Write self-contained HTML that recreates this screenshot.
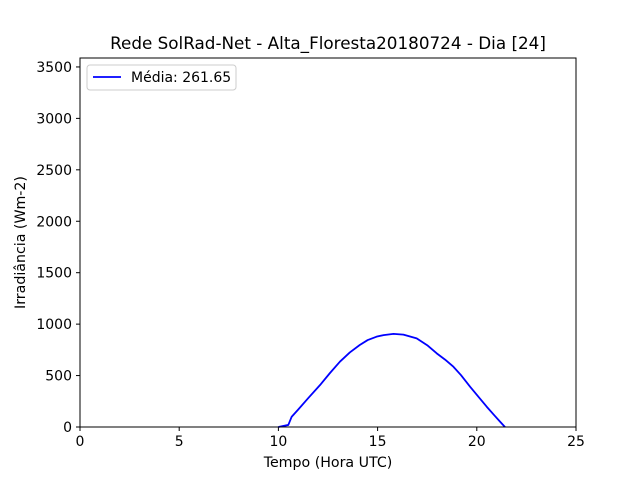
<!DOCTYPE html>
<html><head><meta charset="utf-8"><style>
body{margin:0;background:#fff;font-family:"DejaVu Sans","Liberation Sans",sans-serif}
svg text{font-family:"DejaVu Sans","Liberation Sans",sans-serif;fill:#000}
</style></head><body>
<svg width="640" height="480" id="c">
<rect width="640" height="480" fill="#fff"/>
</svg>
<script>
const xTicks=[0,5,10,15,20,25];
const yTicks=[0,500,1000,1500,2000,2500,3000,3500];
const hours=[10,10.5,10.67,11,11.5,12.1,12.6,13.1,13.6,14.1,14.5,14.95,15.3,15.8,16.3,16.97,17.5,17.98,18.4,18.82,19.2,19.66,20.1,20.5,20.9,21.17,21.42];
const irr=[0,20,100,170,280,408,525,635,725,797,845,878,893,905,898,862,795,716,655,586,505,392,290,197,110,52,0];
const L=80,R=576,T=58,B=427,xmax=25,ymax=3587;
const X=v=>L+(v/xmax)*(R-L), Y=v=>B-(v/ymax)*(B-T);
const s=document.getElementById('c'),NS='http://www.w3.org/2000/svg';
function mk(t,a,p){const e=document.createElementNS(NS,t);for(const k in a)e.setAttribute(k,a[k]);(p||s).appendChild(e);return e;}
xTicks.forEach(v=>{mk('line',{x1:X(v),x2:X(v),y1:B,y2:B+4,stroke:'#000'});const t=mk('text',{x:X(v),y:B+19,'text-anchor':'middle','font-size':14});t.textContent=v;

});
yTicks.forEach(v=>{mk('line',{x1:L-4,x2:L,y1:Y(v),y2:Y(v),stroke:'#000'});const t=mk('text',{x:L-8,y:Y(v)+5,'text-anchor':'end','font-size':14});t.textContent=v;

});
const p=mk('polyline',{points:hours.map((h,i)=>X(h)+','+Y(irr[i])).join(' '),fill:'none',stroke:'#0000ff','stroke-width':1.8,'stroke-linejoin':'round'});


const fr=mk('rect',{x:L,y:T,width:R-L,height:B-T,fill:'none',stroke:'#000','stroke-width':1});


const ti=mk('text',{x:(L+R)/2,y:49,'text-anchor':'middle','font-size':16.8});ti.textContent='Rede SolRad-Net - Alta_Floresta20180724 - Dia [24]';


const xl=mk('text',{x:(L+R)/2,y:467,'text-anchor':'middle','font-size':14.2});xl.textContent='Tempo (Hora UTC)';


const yl=mk('text',{x:25,y:(T+B)/2,'text-anchor':'middle','font-size':14.2,transform:'rotate(-90 25 '+(T+B)/2+')'});yl.textContent='Irradiância (Wm-2)';


const lg=mk('g',{});


mk('rect',{x:87,y:65,width:149,height:25,rx:3,fill:'#fff',stroke:'#ccc'},lg);
mk('line',{x1:93,x2:121,y1:77,y2:77,stroke:'#0000ff','stroke-width':1.8},lg);
const lt=mk('text',{x:131,y:82,'font-size':14},lg);lt.textContent='Média: 261.65';
</script>
</body></html>
